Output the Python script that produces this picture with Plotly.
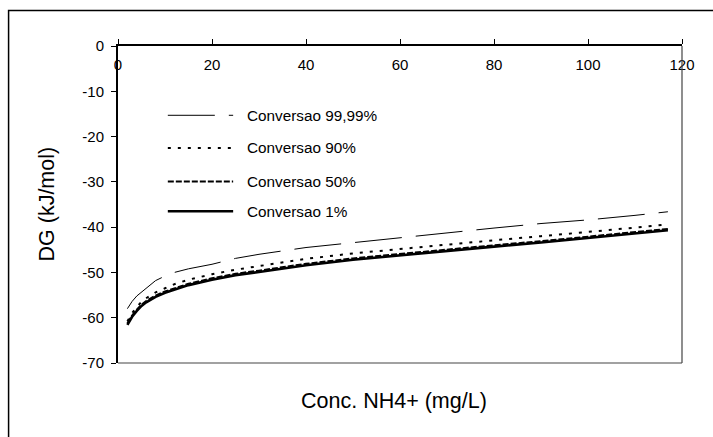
import plotly.graph_objects as go

# Data
conc = [2, 3, 4, 5, 6, 8, 10, 12, 15, 20, 25, 30, 40, 50, 60, 70, 80, 90, 100, 110, 117]
dg_9999 = [-58.0, -56.4, -55.2, -54.3, -53.5, -51.8, -50.8, -50.0, -49.2, -48.2, -46.9, -46.0,
           -44.5, -43.4, -42.3, -41.3, -40.2, -39.2, -38.4, -37.4, -36.6]
dg_90 = [-60.8, -59.0, -57.6, -56.5, -55.7, -54.4, -53.5, -52.6, -51.6, -50.4, -49.4, -48.6,
         -47.0, -45.8, -44.8, -43.8, -42.9, -42.0, -41.1, -40.1, -39.4]
dg_50 = [-61.2, -59.5, -58.2, -57.1, -56.3, -55.1, -54.2, -53.5, -52.5, -51.3, -50.3, -49.6,
         -48.1, -46.9, -45.9, -44.9, -44.0, -43.1, -42.1, -41.2, -40.4]
dg_1 = [-61.6, -59.8, -58.5, -57.4, -56.6, -55.4, -54.5, -53.8, -52.8, -51.6, -50.6, -49.9,
        -48.4, -47.2, -46.2, -45.2, -44.3, -43.4, -42.4, -41.5, -40.7]

series_names = ["Conversao 99,99%", "Conversao 90%", "Conversao 50%", "Conversao 1%"]
series_values = [dg_9999, dg_90, dg_50, dg_1]
x_ticks = [0, 20, 40, 60, 80, 100, 120]
x_tick_text = ["0", "20", "40", "60", "80", "100", "120"]
y_ticks = [0, -10, -20, -30, -40, -50, -60, -70]
y_tick_text = ["0", "-10", "-20", "-30", "-40", "-50", "-60", "-70"]

styles = [
    dict(color="black", width=1, dash="47px,14px"),
    dict(color="black", width=2, dash="3px,7px"),
    dict(color="black", width=2, dash="6px,2px"),
    dict(color="black", width=2.6, dash="solid"),
]

FONT = "Arial, Liberation Sans, sans-serif"

fig = go.Figure()
for name, vals, st in zip(series_names, series_values, styles):
    fig.add_trace(go.Scatter(x=conc, y=vals, mode="lines", name=name, line=st,
                             showlegend=False))

# Manual legend (inside plot area)
legend_y = [-15.3, -22.5, -29.9, -36.5]
shapes = []
annotations = []
for name, st, ly in zip(series_names, styles, legend_y):
    shapes.append(dict(type="line", xref="x", yref="y", x0=10.6, x1=24.5, y0=ly, y1=ly,
                       line=st))
    annotations.append(dict(x=27.0, y=ly, xref="x", yref="y", text=name, showarrow=False,
                            xanchor="left", yanchor="middle",
                            font=dict(family=FONT, size=15.3, color="black")))

# Right and bottom plot-area border (gray)
shapes.append(dict(type="line", xref="paper", yref="paper", x0=1, x1=1, y0=0, y1=1,
                   line=dict(color="#444444", width=1.2)))
shapes.append(dict(type="line", xref="paper", yref="paper", x0=0, x1=1, y0=0, y1=0,
                   line=dict(color="#444444", width=1.2)))
# Outer chart border
shapes.append(dict(type="rect", xref="paper", yref="paper", x0=-0.194, x1=1.08,
                   y0=-0.27, y1=1.112, line=dict(color="black", width=1.5),
                   fillcolor="rgba(0,0,0,0)", layer="below"))

fig.update_layout(
    width=713, height=437,
    margin=dict(l=118, r=31, t=46, b=74),
    paper_bgcolor="white", plot_bgcolor="white",
    font=dict(family=FONT, color="black"),
    shapes=shapes, annotations=annotations,
    showlegend=False,
    xaxis=dict(
        range=[0, 120], side="top", tickvals=x_ticks, ticks="outside", ticklen=5,
        tickcolor="black", tickwidth=1, showticklabels=False,
        showline=True, linecolor="black", linewidth=2, showgrid=False, zeroline=False,
    ),
    # Overlay axis that only carries the tick labels, placed just under the top axis line
    xaxis2=dict(
        range=[0, 120], overlaying="x", matches="x", anchor="free", position=1,
        side="bottom", tickvals=x_ticks, ticktext=x_tick_text, ticks="",
        ticklabelstandoff=8, showline=False, showgrid=False, zeroline=False,
        tickfont=dict(family=FONT, size=15, color="black"),
    ),
    yaxis=dict(
        range=[-70, 0], tickvals=y_ticks, ticktext=y_tick_text, ticks="outside", ticklen=5,
        tickcolor="black", tickwidth=1, ticklabelstandoff=4,
        showline=True, linecolor="black", linewidth=2, showgrid=False, zeroline=False,
        tickfont=dict(family=FONT, size=15, color="black"),
    ),
)
# Invisible helper trace so xaxis2 is drawn
fig.add_trace(go.Scatter(x=[conc[0]], y=[dg_1[0]], xaxis="x2", mode="markers",
                         marker=dict(opacity=0), hoverinfo="skip", showlegend=False))

fig.add_annotation(text="DG (kJ/mol)", xref="paper", yref="paper", x=(46 - 118) / 564,
                   y=0.5, textangle=-90, showarrow=False, xanchor="center", yanchor="middle",
                   font=dict(family=FONT, size=21.5, color="black"))
fig.add_annotation(text="Conc. NH4+ (mg/L)", xref="paper", yref="paper", x=0.49,
                   y=(363 - 401) / 317, showarrow=False, xanchor="center", yanchor="middle",
                   font=dict(family=FONT, size=21.5, color="black"))

fig.write_html("out.html")
